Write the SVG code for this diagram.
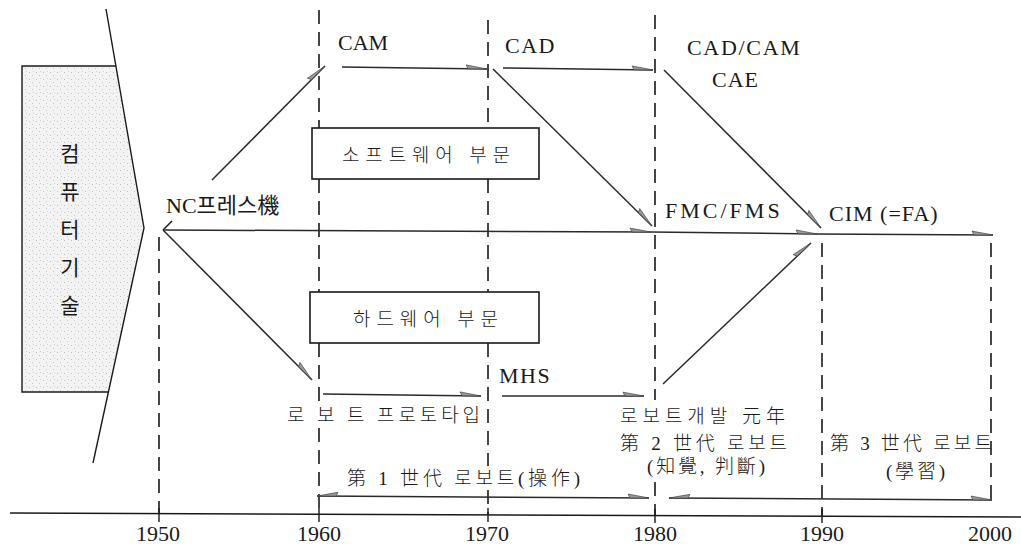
<svg xmlns="http://www.w3.org/2000/svg" width="1021" height="547" viewBox="0 0 1021 547">
<style>
.t{font-family:"Liberation Serif","Noto Sans CJK KR",serif;fill:#1a1a1a}
.lat{font-size:22px}
.kr{font-size:19px;font-weight:300}
.yr{font-size:22px;text-anchor:middle}
.dash{stroke:#1a1a1a;stroke-width:1.6;stroke-dasharray:14 8;fill:none}
.ln{stroke:#1a1a1a;stroke-width:1.4;fill:none}
.arr{stroke:#2a2a2a;stroke-width:1.5;fill:none;marker-end:url(#ah)}
.box{fill:#fff;stroke:#1a1a1a;stroke-width:1.6}
</style>
<defs>
<marker id="ah" viewBox="-24 -6 26 12" refX="0" refY="0" markerWidth="26" markerHeight="12" markerUnits="userSpaceOnUse" orient="auto">
<path d="M0,0 L-21,-3.8 L-19,0 Z" fill="#9a9a9a" stroke="#444" stroke-width="0.7"/>
</marker>
<marker id="as" viewBox="-2 -6 26 12" refX="0" refY="0" markerWidth="26" markerHeight="12" markerUnits="userSpaceOnUse" orient="auto">
<path d="M0,0 L21,-3.8 L19,0 Z" fill="#9a9a9a" stroke="#444" stroke-width="0.7"/>
</marker>
<pattern id="dots" width="7" height="7" patternUnits="userSpaceOnUse">
<rect width="7" height="7" fill="#f3f3f3"/>
<rect x="1" y="2" width="1" height="1" fill="#bdbdbd"/>
<rect x="4" y="5" width="1" height="1" fill="#c8c8c8"/>
<rect x="5" y="1" width="1" height="1" fill="#d0d0d0"/>
</pattern>
</defs>
<rect width="1021" height="547" fill="#fff"/>

<g id="computer-tech">
<path d="M22,66 L116,66 L144,228 L108,392 L22,392 Z" fill="url(#dots)"/>
<path d="M116,66 L22,66 L22,392 L108,392" class="ln" stroke-width="1.6"/>
<path d="M106,9 L144,228 L93,463" class="ln" stroke-width="1.6"/>
<text class="t" font-size="21" x="70" y="161" text-anchor="middle">컴</text>
<text class="t" font-size="21" x="70" y="199" text-anchor="middle">퓨</text>
<text class="t" font-size="21" x="70" y="237" text-anchor="middle">터</text>
<text class="t" font-size="21" x="70" y="275" text-anchor="middle">기</text>
<text class="t" font-size="21" x="70" y="313" text-anchor="middle">술</text>
</g>

<g id="timeline-grid">
<line x1="10" y1="513" x2="1021" y2="517" class="ln" stroke-width="1.6"/>
<path d="M159,508V522 M319,508V522 M488,508V522 M655,509V523 M822,509V523" class="ln" stroke-width="1.6"/>
<path d="M159,237V513" class="dash"/>
<path d="M319,10V128 M319,179V292 M319,343V404 M319,428V513" class="dash"/>
<path d="M488,20V128 M488,179V292 M488,343V466 M488,490V514" class="dash"/>
<path d="M655,15V400 M655,482V515" class="dash"/>
<path d="M822,243V516" class="dash"/>
<path d="M991,243V500" class="dash"/>
<text class="t yr" x="158" y="541">1950</text>
<text class="t yr" x="319" y="541">1960</text>
<text class="t yr" x="487" y="541">1970</text>
<text class="t yr" x="655" y="541">1980</text>
<text class="t yr" x="822" y="541">1990</text>
<text class="t yr" x="990" y="541">2000</text>
</g>

<g id="software-box">
<rect x="312" y="128" width="227" height="51" class="box"/>
<text class="t kr" x="342" y="162" textLength="168" lengthAdjust="spacing">소프트웨어 부문</text>
</g>
<g id="hardware-box">
<rect x="310" y="292" width="229" height="51" class="box"/>
<text class="t kr" x="353" y="326" textLength="145" lengthAdjust="spacing">하드웨어 부문</text>
</g>

<g id="labels">
<text class="t lat" x="166" y="213">NC프레스機</text>
<text class="t lat" x="338" y="50">CAM</text>
<text class="t lat" x="505" y="53" letter-spacing="1.5">CAD</text>
<text class="t lat" x="687" y="55" letter-spacing="1.7">CAD/CAM</text>
<text class="t lat" x="712" y="87" letter-spacing="1">CAE</text>
<text class="t lat" x="665" y="218" letter-spacing="3">FMC/FMS</text>
<text class="t lat" x="829" y="221" letter-spacing="1">CIM (=FA)</text>
<text class="t lat" x="499" y="383" letter-spacing="1.5">MHS</text>
<text class="t kr" x="287" y="422" textLength="193" lengthAdjust="spacing">로 보 트  프로토타입</text>
<text class="t kr" x="347" y="485" textLength="233" lengthAdjust="spacing">第 1 世代  로보트(操作)</text>
<text class="t kr" x="620" y="423" textLength="165" lengthAdjust="spacing">로보트개발 元年</text>
<text class="t kr" x="620" y="450" textLength="167" lengthAdjust="spacing">第 2 世代  로보트</text>
<text class="t kr" x="647" y="473" textLength="118" lengthAdjust="spacing">(知覺, 判斷)</text>
<text class="t kr" x="830" y="450" textLength="162" lengthAdjust="spacing">第 3 世代  로보트</text>
<text class="t kr" x="886" y="478" textLength="59" lengthAdjust="spacing">(學習)</text>
</g>

<g id="connectors">
<line x1="163" y1="230" x2="172" y2="221" class="ln"/>
<line x1="212" y1="180" x2="325" y2="66" class="arr"/>
<line x1="163" y1="230" x2="312" y2="380" class="arr"/>
<line x1="163" y1="230" x2="651" y2="232" class="arr"/>
<line x1="651" y1="232" x2="817" y2="234" class="arr"/>
<line x1="817" y1="234" x2="993" y2="235" class="arr"/>
<line x1="342" y1="67" x2="487" y2="69" class="arr"/>
<line x1="503" y1="68" x2="653" y2="70" class="arr"/>
<line x1="493" y1="69" x2="652" y2="226" class="arr"/>
<line x1="664" y1="70" x2="821" y2="228" class="arr"/>
<line x1="323" y1="394" x2="481" y2="396" class="arr"/>
<line x1="502" y1="396" x2="644" y2="396" class="arr"/>
<line x1="663" y1="384" x2="811" y2="243" class="arr"/>
<line x1="317" y1="496" x2="649" y2="498" class="arr" marker-start="url(#as)"/>
<line x1="669" y1="498" x2="992" y2="500" class="arr" marker-start="url(#as)"/>
</g>
</svg>
